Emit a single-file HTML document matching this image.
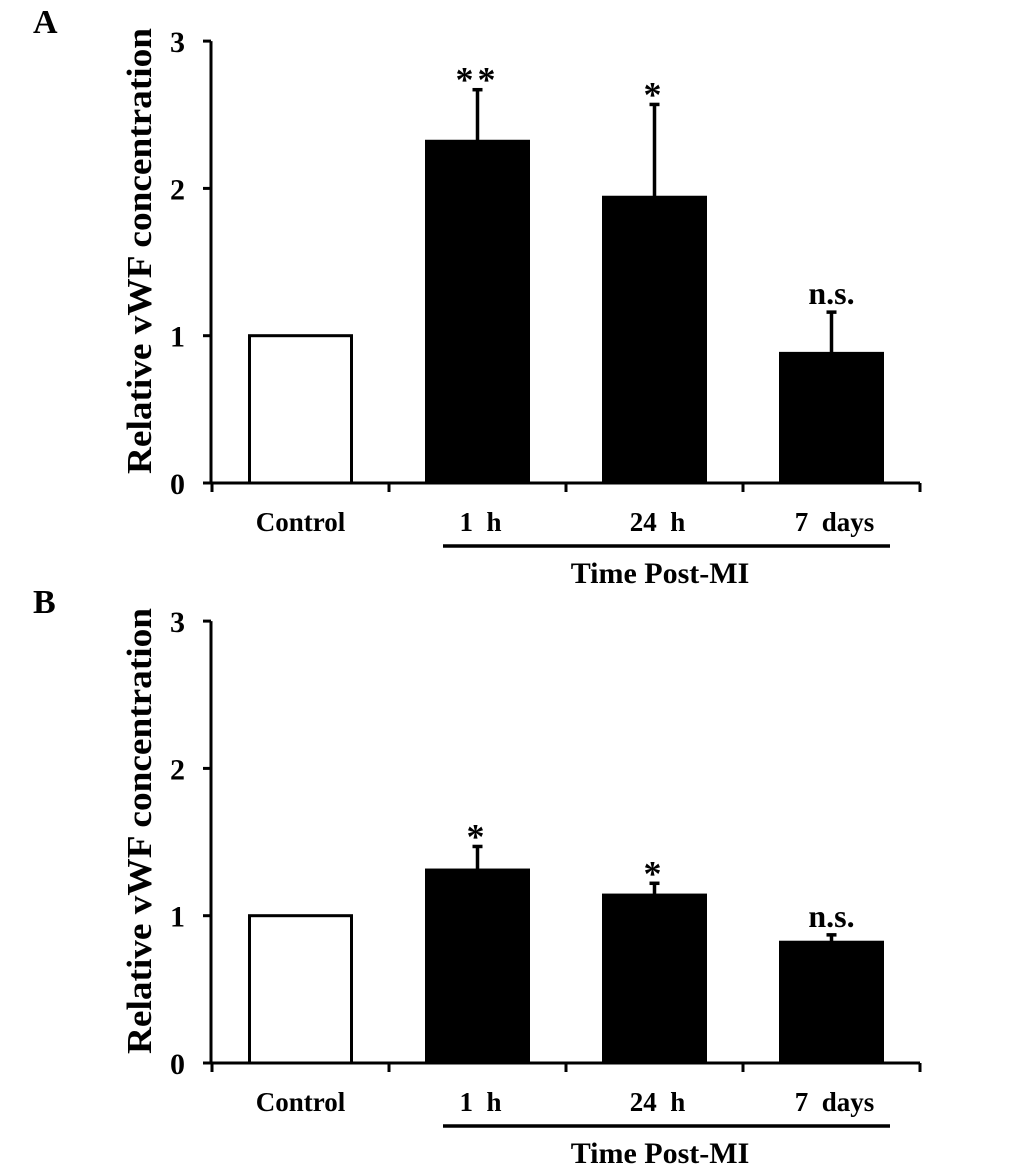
<!DOCTYPE html>
<html><head><meta charset="utf-8"><style>
body{margin:0;background:#fff}
svg text{font-family:"Liberation Serif",serif;font-weight:bold;fill:#000;white-space:pre}
</style></head><body>
<svg id="chart" width="1033" height="1167" viewBox="0 0 1033 1167" xmlns="http://www.w3.org/2000/svg"></svg>
<script>
const categories=["Control","1  h","24  h","7  days"];
const panelLabels=["A","B"];
const valuesA=[1.0,2.32,1.94,0.88];
const errorsA=[0,0.35,0.63,0.28];
const sigA=["","**","*","n.s."];
const valuesB=[1.0,1.31,1.14,0.82];
const errorsB=[0,0.16,0.08,0.05];
const sigB=["","*","*","n.s."];
const yTicks=[0,1,2,3];
const NS="http://www.w3.org/2000/svg";
const svg=document.getElementById('chart');
function mk(tag,attrs,parent){const e=document.createElementNS(NS,tag);for(const k in attrs)e.setAttribute(k,attrs[k]);(parent||svg).appendChild(e);return e;}
function panel(idx,top,values,errors,sig){
  const g=mk('g',{});
  
  
  const y0=top+442, unit=147.3, ax=211;
  const y=v=>y0-v*unit;
  const catW=177, x0=212;
  const xc=i=>x0+catW*(i+0.5);
  const pl=mk('text',{x:33,y:top-8,'font-size':34},g);pl.textContent=panelLabels[idx];
  
  
  const ya=mk('line',{x1:ax,y1:y(3),x2:ax,y2:y0,stroke:'#000','stroke-width':3},g);
  
  
  const xa=mk('line',{x1:ax-8,y1:y0,x2:x0+catW*4,y2:y0,stroke:'#000','stroke-width':3},g);
  
  
  yTicks.forEach(t=>{
    mk('line',{x1:ax-8,y1:y(t),x2:ax,y2:y(t),stroke:'#000','stroke-width':3},g);
    const tl=mk('text',{x:185,y:y(t)+11,'font-size':30,'text-anchor':'end'},g);tl.textContent=t;
    
    
  });
  for(let i=0;i<=4;i++)mk('line',{x1:x0+catW*i,y1:y0,x2:x0+catW*i,y2:y0+9,stroke:'#000','stroke-width':3},g);
  const yt=mk('text',{x:0,y:0,'font-size':35,'text-anchor':'middle',textLength:446,lengthAdjust:'spacingAndGlyphs',transform:`translate(151,${top+210}) rotate(-90)`},g);
  yt.textContent='Relative vWF concentration';
  
  
  values.forEach((v,i)=>{
    const cx=xc(i);
    if(errors[i]>0){
      const et=y(v+errors[i]);
      const el=mk('line',{x1:cx,y1:et,x2:cx,y2:y(v),stroke:'#000','stroke-width':3.5},g);
      
      
      mk('line',{x1:cx-5,y1:et,x2:cx+5,y2:et,stroke:'#000','stroke-width':3.5},g);
    }
    const r=mk('rect',{x:cx-51,y:y(v),width:102,height:y0-y(v),fill:i==0?'#fff':'#000',stroke:'#000','stroke-width':3},g);
    
    
    if(sig[i]){
      const ns=sig[i]=='n.s.';
      const s=mk('text',{x:cx,y:y(v+errors[i])-(ns?8:-2),'font-size':ns?32:36,'text-anchor':'middle','letter-spacing':ns?0:4},g);
      s.textContent=sig[i];
      
      
    }
    const cl=mk('text',{x:cx+(i==0?0:3),y:y0+48,'font-size':27,'text-anchor':'middle'},g);
    cl.textContent=categories[i];
    
    
  });
  const ul=mk('line',{x1:443,y1:y0+63,x2:890,y2:y0+63,stroke:'#000','stroke-width':3.5},g);
  
  
  const xt=mk('text',{x:660,y:y0+100,'font-size':30,'text-anchor':'middle'},g);
  xt.textContent='Time Post-MI';
  
  
}
panel(0,41,valuesA,errorsA,sigA);
panel(1,621,valuesB,errorsB,sigB);
</script>
</body></html>
